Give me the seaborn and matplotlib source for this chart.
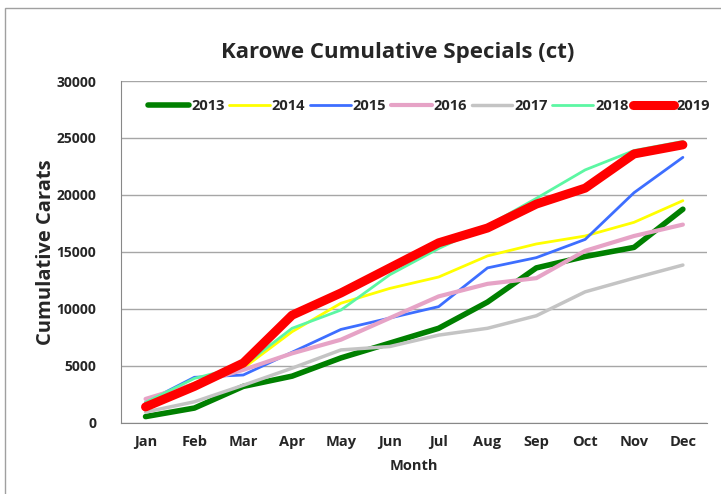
import pandas as pd
import matplotlib.pyplot as plt
import matplotlib.patches as patches
import seaborn as sns

months = ['Jan', 'Feb', 'Mar', 'Apr', 'May', 'Jun', 'Jul', 'Aug', 'Sep', 'Oct', 'Nov', 'Dec']
years = ['2013', '2014', '2015', '2016', '2017', '2018', '2019']

c2013 = [550, 1300, 3200, 4100, 5700, 7000, 8300, 10600, 13600, 14600, 15400, 18750]
c2014 = [1700, 3500, 4800, 8000, 10500, 11800, 12800, 14650, 15700, 16400, 17600, 19500]
c2015 = [1800, 4000, 4200, 6200, 8200, 9200, 10200, 13600, 14500, 16100, 20200, 23300]
c2016 = [2100, 3400, 4650, 6100, 7300, 9200, 11100, 12200, 12700, 15100, 16400, 17400]
c2017 = [950, 1850, 3300, 4800, 6400, 6700, 7700, 8300, 9400, 11500, 12700, 13850]
c2018 = [1800, 3900, 5000, 8300, 9900, 13000, 15300, 17300, 19700, 22200, 23900, 24700]
c2019 = [1400, 3200, 5250, 9450, 11400, 13600, 15800, 17100, 19200, 20600, 23600, 24400]

series = [c2013, c2014, c2015, c2016, c2017, c2018, c2019]
colors = {'2013': '#008000', '2014': '#FFFF00', '2015': '#3D6EFF', '2016': '#E6A3C6',
          '2017': '#C4C4C4', '2018': '#5CF7A3', '2019': '#FF0000'}
widths = {'2013': 4, '2014': 2, '2015': 2, '2016': 3, '2017': 2.5, '2018': 2, '2019': 6.5}

rows = []
for y, vals in zip(years, series):
    for m, v in zip(months, vals):
        rows.append({'Month': m, 'Carats': v, 'Year': y})
df = pd.DataFrame(rows)

sns.set_style('white')
plt.rcParams['font.family'] = ['Open Sans', 'DejaVu Sans']

fig = plt.figure(figsize=(7.21, 4.94), dpi=100)
ax = fig.add_axes([0.168, 0.144, 0.813, 0.692])

sns.lineplot(data=df, x='Month', y='Carats', hue='Year', size='Year',
             palette=colors, sizes=widths, ax=ax, sort=False)

ax.set_ylim(0, 30000)
ax.set_xlim(-0.5, 11.5)
ax.set_yticks(range(0, 30001, 5000))
ax.yaxis.grid(True, color='#A6A6A6', linewidth=1)
ax.set_axisbelow(True)
for s in ['top', 'right']:
    ax.spines[s].set_visible(False)
ax.spines['left'].set_color('#888888')
ax.spines['bottom'].set_color('#888888')

ax.set_xticks(range(12))
ax.set_xticklabels(months, fontweight='bold', fontsize=10.5)
ax.set_xticks([i - 0.5 for i in range(13)], minor=True)
ax.tick_params(axis='x', which='major', length=0, pad=9)
ax.tick_params(axis='x', which='minor', length=5, color='#888888', direction='out')
ax.tick_params(axis='y', length=6, color='#888888', direction='out', labelsize=10, pad=12)
for lab in ax.get_yticklabels():
    lab.set_fontweight('bold')

ax.set_xlabel('Month', fontweight='bold', fontsize=10.5, labelpad=7)
ax.set_ylabel('Cumulative Carats', fontweight='bold', fontsize=14.5, labelpad=0)
fig.text(0.551, 0.893, 'Karowe Cumulative Specials (ct)', ha='center', va='center',
         fontweight='bold', fontsize=16)

handles, labels = ax.get_legend_handles_labels()
ax.legend(handles, labels, loc='upper center', bbox_to_anchor=(0.525, 0.985), ncol=7,
          frameon=False, handlelength=2.8, handletextpad=0.15, columnspacing=0.3,
          prop={'weight': 'bold', 'size': 10.5})

fig.patches.append(patches.Rectangle((5 / 721, -0.1), 1.1, 1 - 8 / 494 + 0.1,
                                     transform=fig.transFigure, fill=False,
                                     edgecolor='#A0A0A0', linewidth=1))

fig.savefig('out.png', dpi=100)
